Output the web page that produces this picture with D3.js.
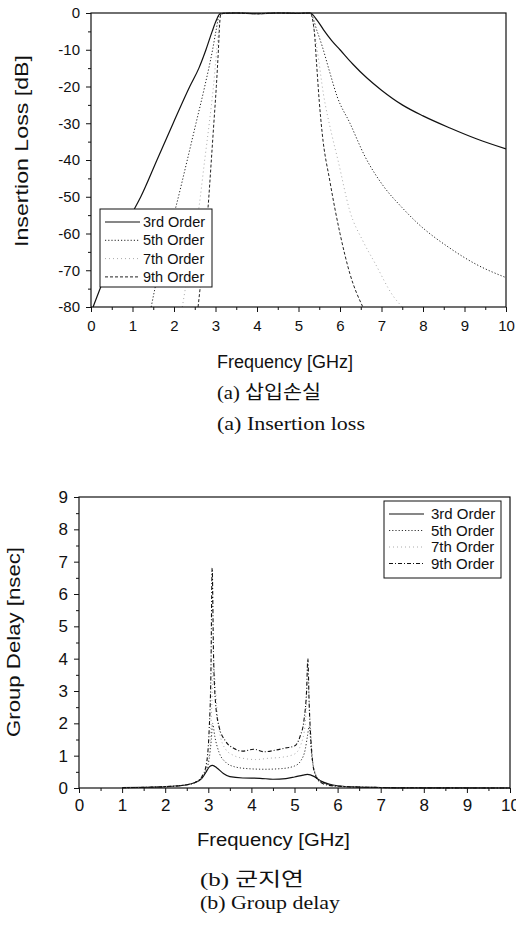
<!DOCTYPE html>
<html>
<head>
<meta charset="utf-8">
<script src="https://cdn.jsdelivr.net/npm/d3@7"></script>
<style>
  body { margin: 0; background: #fff; }
  svg { display: block; }
</style>
</head>
<body>
<svg id="chart" width="516" height="936"></svg>
<script>
// values
const seriesNames = ['3rd Order', '5th Order', '7th Order', '9th Order'];
const freqTicks = [0, 1, 2, 3, 4, 5, 6, 7, 8, 9, 10];
const lossTicks = [0, -10, -20, -30, -40, -50, -60, -70, -80];
const delayTicks = [0, 1, 2, 3, 4, 5, 6, 7, 8, 9];

// insertion loss [GHz, dB]
const loss3rd = [[0.05, -80], [0.5, -67], [1.06, -53], [1.2, -50], [1.59, -40], [1.98, -30], [2.38, -20],
  [2.6, -15], [2.77, -10], [2.92, -5], [3.02, -2], [3.1, -0.3], [3.2, -0.1], [3.5, 0], [4.0, -0.2],
  [4.5, 0], [5.0, -0.1], [5.28, 0], [5.45, -2], [5.6, -4.5], [5.8, -7.5], [6.0, -10], [6.3, -13.8],
  [6.65, -17.7], [7.0, -21], [7.5, -25], [8.0, -28], [8.65, -31.3], [9.3, -34.3], [10, -37]];
const loss5th = [[1.45, -80], [1.54, -75], [1.8, -63], [2.04, -53], [2.32, -40], [2.53, -30], [2.74, -20],
  [2.93, -10], [3.01, -5], [3.1, -0.3], [3.2, -0.1], [3.5, 0], [4.0, -0.2], [4.5, 0], [5.0, -0.1],
  [5.28, 0], [5.45, -5], [5.57, -9], [5.75, -16], [5.93, -22.7], [6.24, -30], [6.6, -39], [7.04, -47],
  [7.5, -53], [7.85, -57], [8.65, -64], [9.3, -68.5], [10, -72]];
const loss7th = [[2.2, -80], [2.42, -65], [2.6, -53], [2.74, -40], [2.85, -30], [2.95, -20], [3.03, -10],
  [3.08, -4], [3.12, -0.3], [3.2, -0.1], [3.5, 0], [4.0, -0.2], [4.5, 0], [5.0, -0.1], [5.28, 0],
  [5.45, -10], [5.6, -22], [5.8, -33], [5.95, -40], [6.24, -54], [6.55, -62], [6.84, -68], [7.28, -77],
  [7.5, -80]];
const loss9th = [[2.58, -80], [2.72, -65], [2.82, -53], [2.9, -40], [2.96, -30], [3.02, -20], [3.07, -10],
  [3.1, -3], [3.13, -0.3], [3.2, -0.1], [3.5, 0], [4.0, -0.2], [4.5, 0], [5.0, -0.1], [5.28, 0],
  [5.38, -5], [5.44, -14.5], [5.5, -24], [5.57, -32.6], [5.76, -46], [6.0, -60], [6.24, -71], [6.55, -80]];

// group delay [GHz, nsec]
const delay3rd = [[1, 0.01], [1.5, 0.02], [2, 0.04], [2.3, 0.07], [2.5, 0.1], [2.7, 0.17], [2.85, 0.3],
  [2.95, 0.5], [3.03, 0.66], [3.1, 0.7], [3.2, 0.62], [3.35, 0.45], [3.5, 0.35], [3.8, 0.31], [4.2, 0.3],
  [4.5, 0.27], [4.8, 0.29], [5.0, 0.34], [5.2, 0.4], [5.3, 0.42], [5.45, 0.36], [5.6, 0.22], [5.8, 0.12],
  [6.0, 0.07], [6.5, 0.03], [7, 0.015], [7.5, 0.005], [10, 0]];
const delay5th = [[1, 0.01], [2, 0.04], [2.5, 0.1], [2.7, 0.18], [2.85, 0.32], [2.95, 0.55], [3.02, 0.9],
  [3.07, 1.5], [3.1, 2.0], [3.15, 1.6], [3.25, 1.1], [3.4, 0.8], [3.6, 0.66], [3.9, 0.6], [4.3, 0.58],
  [4.7, 0.6], [5.0, 0.68], [5.15, 0.85], [5.25, 1.2], [5.3, 1.6], [5.34, 1.9], [5.4, 1.0], [5.47, 0.5],
  [5.6, 0.22], [5.8, 0.1], [6.0, 0.06], [6.5, 0.03], [7, 0.015], [8, 0.005], [10, 0]];
const delay7th = [[1, 0.01], [2, 0.04], [2.5, 0.1], [2.7, 0.18], [2.85, 0.33], [2.95, 0.6], [3.03, 1.2],
  [3.08, 2.5], [3.12, 3.9], [3.17, 3.0], [3.25, 1.8], [3.4, 1.2], [3.6, 1.0], [3.8, 0.92], [4.1, 0.88],
  [4.4, 0.92], [4.7, 0.95], [5.0, 1.05], [5.15, 1.35], [5.25, 2.0], [5.31, 3.3], [5.36, 2.2], [5.42, 0.9],
  [5.5, 0.4], [5.65, 0.16], [5.9, 0.07], [6.5, 0.03], [7, 0.015], [8, 0.005], [10, 0]];
const delay9th = [[1, 0.01], [2, 0.04], [2.5, 0.1], [2.7, 0.18], [2.85, 0.35], [2.95, 0.7], [3.02, 1.8],
  [3.06, 3.5], [3.09, 6.8], [3.12, 4.2], [3.17, 2.6], [3.25, 1.9], [3.4, 1.45], [3.6, 1.22], [3.8, 1.14],
  [4.05, 1.2], [4.3, 1.12], [4.55, 1.17], [4.8, 1.24], [5.0, 1.3], [5.13, 1.6], [5.22, 2.1], [5.28, 3.0],
  [5.31, 4.0], [5.34, 2.6], [5.38, 1.5], [5.43, 0.7], [5.5, 0.35], [5.6, 0.18], [5.8, 0.08], [6.2, 0.04],
  [7, 0.015], [8, 0.005], [10, 0]];

const svg = d3.select('#chart');
const sans = 'Liberation Sans, Arial, sans-serif';
const serif = 'Liberation Serif, Times New Roman, Noto Sans CJK KR, serif';

function drawPanel(p) {
  const x = d3.scaleLinear().domain([0, 10]).range(p.xRange);
  const y = d3.scaleLinear().domain(p.yDomain).range(p.yRange);
  const left = p.xRange[0], right = p.xRange[1];
  const top = p.yRange[1], bottom = p.yRange[0];

  const g = svg.append('g');
  g.append('clipPath').attr('id', p.id + '-clip')
    .append('rect').attr('x', left).attr('y', top - 1)
    .attr('width', right - left).attr('height', bottom - top + 2);

  // curves
  const line = d3.line().x(d => x(d[0])).y(d => y(d[1])).curve(d3.curveMonotoneX);
  g.append('g').attr('clip-path', `url(#${p.id}-clip)`)
    .selectAll('path').data(p.series).enter().append('path')
    .attr('d', d => line(d))
    .attr('fill', 'none')
    .attr('stroke', (d, i) => p.styles[i].color)
    .attr('stroke-width', (d, i) => p.styles[i].width)
    .attr('stroke-dasharray', (d, i) => p.styles[i].dash);

  // frame
  g.append('rect').attr('x', left).attr('y', top)
    .attr('width', right - left).attr('height', bottom - top)
    .attr('fill', 'none').attr('stroke', '#111').attr('stroke-width', 1.2);

  // x axis
  g.append('g').attr('transform', `translate(0,${bottom})`)
    .call(d3.axisBottom(x).tickValues(d3.range(0.5, 10, 1)).tickSize(3).tickFormat(''))
    .call(a => a.select('.domain').remove());
  g.append('g').attr('transform', `translate(0,${bottom})`)
    .call(d3.axisBottom(x).tickValues(freqTicks).tickSize(5).tickPadding(p.xPad))
    .call(a => a.select('.domain').remove())
    .call(a => a.selectAll('text').attr('font-family', sans).attr('font-size', p.tickFont).attr('fill', '#111'));

  // y axis
  g.append('g').attr('transform', `translate(${left},0)`)
    .call(d3.axisLeft(y).tickValues(p.yMinor).tickSize(3).tickFormat(''))
    .call(a => a.select('.domain').remove());
  g.append('g').attr('transform', `translate(${left},0)`)
    .call(d3.axisLeft(y).tickValues(p.yTicks).tickSize(5).tickPadding(p.yPad).tickFormat(d => String(d)))
    .call(a => a.select('.domain').remove())
    .call(a => a.selectAll('text').attr('font-family', sans).attr('font-size', p.tickFont).attr('fill', '#111'));
  g.selectAll('.tick line').attr('stroke', '#111');

  // legend
  const lg = g.append('g');
  lg.append('rect').attr('x', p.legend.x).attr('y', p.legend.y)
    .attr('width', p.legend.w).attr('height', p.legend.h)
    .attr('fill', '#fff').attr('stroke', '#111').attr('stroke-width', 1);
  seriesNames.forEach((name, i) => {
    const cy = p.legend.y + p.legend.first + i * p.legend.step;
    lg.append('line').attr('x1', p.legend.x + 5).attr('x2', p.legend.x + p.legend.sample)
      .attr('y1', cy).attr('y2', cy)
      .attr('stroke', p.styles[i].color).attr('stroke-width', p.styles[i].width)
      .attr('stroke-dasharray', p.styles[i].dash);
    lg.append('text').attr('x', p.legend.x + p.legend.textX).attr('y', cy + 5)
      .attr('font-family', sans).attr('font-size', p.legend.font).attr('fill', '#111')
      .text(name);
  });

  // axis titles
  g.append('text')
    .attr('transform', `translate(${p.yTitle.x},${p.yTitle.y}) rotate(-90)`)
    .attr('text-anchor', 'middle').attr('font-family', sans).attr('font-size', 18).attr('fill', '#111')
    .attr('textLength', p.yTitle.len).attr('lengthAdjust', 'spacingAndGlyphs')
    .text(p.yTitle.text);
  g.append('text').attr('x', p.xTitle.x).attr('y', p.xTitle.y)
    .attr('font-family', sans).attr('font-size', 18).attr('fill', '#111')
    .attr('textLength', p.xTitle.len).attr('lengthAdjust', 'spacingAndGlyphs')
    .text('Frequency [GHz]');

  // captions
  p.captions.forEach(c => {
    g.append('text').attr('x', c.x).attr('y', c.y)
      .attr('font-family', serif)
      .attr('font-size', 19).attr('fill', '#111')
      .attr('textLength', c.len).attr('lengthAdjust', 'spacingAndGlyphs')
      .text(c.text);
  });
}

const lossStyles = [
  { color: '#111', width: 1.2, dash: null },
  { color: '#222', width: 1, dash: '1.2,2' },
  { color: '#aaa', width: 1, dash: '1,3' },
  { color: '#222', width: 1, dash: '3,2' }
];
const delayStyles = [
  { color: '#111', width: 1.2, dash: null },
  { color: '#333', width: 1, dash: '1.2,2' },
  { color: '#aaa', width: 1, dash: '1,3' },
  { color: '#111', width: 1.1, dash: '4,2,1,2' }
];

drawPanel({
  id: 'loss',
  xRange: [91, 506], yDomain: [-80, 0], yRange: [307, 13],
  yTicks: lossTicks, yMinor: d3.range(-75, 0, 10),
  series: [loss3rd, loss5th, loss7th, loss9th], styles: lossStyles,
  tickFont: 15, xPad: 8, yPad: 6,
  legend: { x: 100, y: 209, w: 112, h: 78, first: 13, step: 18.3, sample: 40, textX: 43, font: 14.5 },
  yTitle: { x: 28, y: 151, len: 192, text: 'Insertion Loss [dB]' },
  xTitle: { x: 217, y: 368, len: 136 },
  captions: [
    { x: 217, y: 399, len: 104, text: '(a) 삽입손실' },
    { x: 217, y: 430, len: 148, text: '(a) Insertion loss' }
  ]
});

drawPanel({
  id: 'delay',
  xRange: [79, 510], yDomain: [0, 9], yRange: [788, 497],
  yTicks: delayTicks, yMinor: d3.range(0.5, 9, 1),
  series: [delay3rd, delay5th, delay7th, delay9th], styles: delayStyles,
  tickFont: 17, xPad: 6, yPad: 6,
  legend: { x: 384, y: 501, w: 117, h: 77, first: 13, step: 16.5, sample: 40, textX: 47, font: 15 },
  yTitle: { x: 20, y: 642, len: 190, text: 'Group Delay [nsec]' },
  xTitle: { x: 197, y: 846, len: 153 },
  captions: [
    { x: 200, y: 886, len: 104, text: '(b) 군지연' },
    { x: 200, y: 909, len: 140, text: '(b) Group delay' }
  ]
});
</script>
</body>
</html>
